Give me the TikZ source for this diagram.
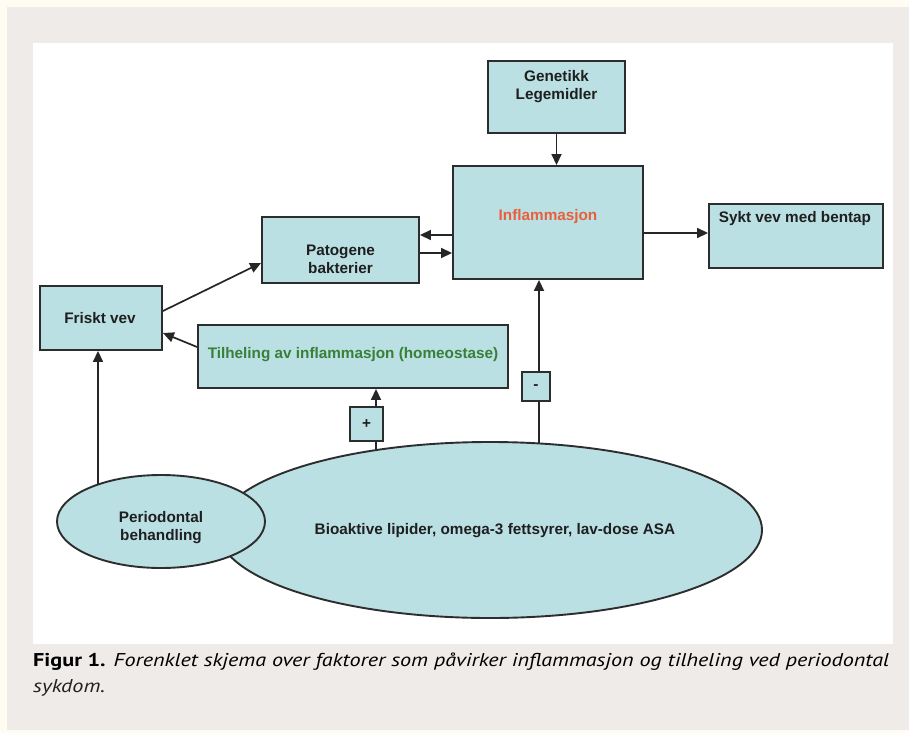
\documentclass[tikz,border=0pt]{standalone}
\usepackage{fontspec}
\setmainfont{Liberation Sans}
\newfontfamily\capfont{PT Sans}
\usetikzlibrary{arrows.meta,shapes.geometric,calc}
\definecolor{cream}{RGB}{255,253,242}
\definecolor{panel}{RGB}{238,235,233}
\definecolor{boxfill}{RGB}{186,224,228}
\definecolor{boxline}{RGB}{45,45,45}
\definecolor{inforange}{RGB}{232,96,58}
\definecolor{healgreen}{RGB}{56,128,56}
\definecolor{captext}{RGB}{35,31,32}
\pgfdeclarelayer{back}
\pgfdeclarelayer{links}
\pgfsetlayers{back,links,main}
\newsavebox\capboxA
\begin{document}
\sbox\capboxA{\capfont\fontsize{18.5}{22}\selectfont\textbf{Figur 1.} \textit{Forenklet skjema over faktorer som påvirker inflammasjon og tilheling ved periodontal}}%
\pgfmathsetmacro\capsc{856/\the\wd\capboxA}%
\begin{tikzpicture}[x=1pt,y=-1pt,
  box/.style={draw=boxline,fill=boxfill,line width=1.9pt,inner sep=0pt,rectangle},
  oval/.style={draw=boxline,fill=boxfill,line width=1.9pt,inner sep=0pt,ellipse},
  lbl/.style={font=\bfseries\fontsize{15.3}{18}\selectfont,align=center,inner sep=0pt,text=black!88},
  arr/.style={line width=1.7pt,draw=black!85,-{Triangle[length=11pt,width=10pt]}},
  capstyle/.style={anchor=west,inner sep=0pt,text=captext}
]
\useasboundingbox (0,0) rectangle (909,733);
\begin{pgfonlayer}{back}
  \fill[cream] (0,0) rectangle (909,733);
  \fill[panel] (7,7) rectangle (909,730);
  \fill[white] (33,43) rectangle (893,644);
\end{pgfonlayer}

% shapes
\node[box,minimum width=137pt,minimum height=72pt] (gen) at (556.5,97) {};
\node[box,minimum width=190pt,minimum height=113pt] (inf) at (548,222.5) {};
\node[box,minimum width=174pt,minimum height=64pt] (syk) at (796,236) {};
\node[box,minimum width=157pt,minimum height=66pt] (pat) at (340.5,250) {};
\node[box,minimum width=122pt,minimum height=64pt] (fri) at (101,318) {};
\node[box,minimum width=310pt,minimum height=63pt] (til) at (353,356.5) {};
\node[box,minimum width=33pt,minimum height=34pt] (plus) at (366.5,424) {};
\node[box,minimum width=28pt,minimum height=29pt] (minus) at (536,386.5) {};
\node[oval,minimum width=544pt,minimum height=176pt] (bio) at (490,530) {};
\node[oval,minimum width=208pt,minimum height=93pt] (per) at (161,521.5) {};

% texts
\node[lbl] (tgen) at (556.5,87) {Genetikk\\Legemidler};
\node[lbl,text=inforange] (tinf) at (548,217) {Inflammasjon};
\node[lbl] (tsyk) at (795,219) {Sykt vev med bentap};
\node[lbl] (tpat) at (340.5,259) {Patogene\\bakterier};
\node[lbl] (tfri) at (100,318) {Friskt vev};
\node[lbl,text=healgreen] (ttil) at (353,355) {Tilheling av inflammasjon (homeostase)};
\node[lbl] (tplus) at (366.5,424) {+};
\node[lbl] (tminus) at (536,387) {-};
\node[lbl] (tbio) at (495,531) {Bioaktive lipider, omega-3 fettsyrer, lav-dose ASA};
\node[lbl] (tper) at (161,528) {Periodontal\\behandling};

% connectors
\coordinate (pPlus) at (376,480);
\coordinate (pMinus) at (539,480);
\coordinate (pPer) at (98,520);
\begin{pgfonlayer}{links}
  \draw[arr] (gen.south) -- (gen.south |- inf.north);
  \draw[arr] (inf.east |- 0,233) -- (syk.west |- 0,233);
  \draw[arr] (inf.west |- 0,235) -- (pat.east |- 0,235);
  \draw[arr] (pat.east |- 0,253) -- (inf.west |- 0,253);
  \draw[arr] (fri.east |- 0,311) -- (pat.west |- 0,263);
  \draw[arr] (til.west |- 0,347) -- (fri.east |- 0,333);
  \draw[arr] (pPlus) -- (pPlus |- til.south);
  \draw[arr] (pMinus) -- (pMinus |- inf.south);
  \draw[arr] (pPer) -- (pPer |- fri.south);
\end{pgfonlayer}

% caption
\node[capstyle] (cap1) at (33,662) {\scalebox{\capsc}[1]{\usebox\capboxA}};
\node[capstyle] (cap2) at (33,688) {\scalebox{\capsc}[1]{\capfont\fontsize{18.5}{22}\selectfont\itshape sykdom.}};
\end{tikzpicture}
\end{document}
